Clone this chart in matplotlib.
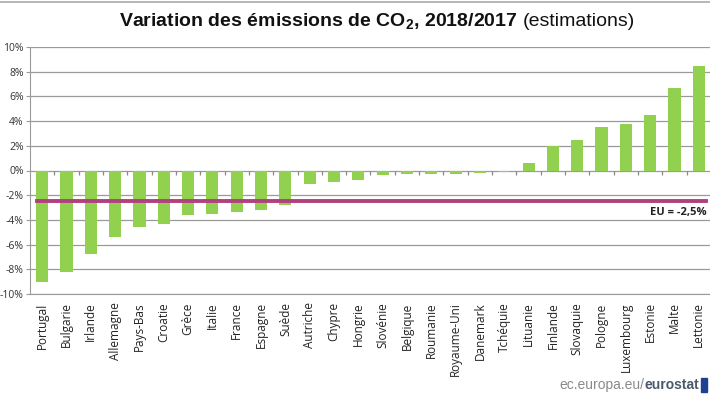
import matplotlib
matplotlib.use("Agg")
import matplotlib.pyplot as plt
import numpy as np

# données (variation en %, 2018/2017)
pays = ["Portugal", "Bulgarie", "Irlande", "Allemagne", "Pays-Bas", "Croatie", "Grèce",
        "Italie", "France", "Espagne", "Suède", "Autriche", "Chypre", "Hongrie", "Slovénie",
        "Belgique", "Roumanie", "Royaume-Uni", "Danemark", "Tchéquie", "Lituanie", "Finlande",
        "Slovaquie", "Pologne", "Luxembourg", "Estonie", "Malte", "Lettonie"]
variation = [-9.0, -8.2, -6.8, -5.4, -4.6, -4.3, -3.6, -3.5, -3.4, -3.2, -2.8, -1.1, -0.9, -0.8,
             -0.4, -0.3, -0.3, -0.3, -0.2, -0.1, 0.6, 2.0, 2.5, 3.5, 3.8, 4.5, 6.7, 8.5]
moyenne_ue = -2.5
yticks = [-10, -8, -6, -4, -2, 0, 2, 4, 6, 8, 10]

plt.rcParams['mathtext.fontset'] = 'custom'
plt.rcParams['mathtext.rm'] = 'Liberation Sans'
plt.rcParams['mathtext.bf'] = 'Liberation Sans:bold'

W, H = 710, 399
fig = plt.figure(figsize=(W / 100, H / 100), dpi=100)
ax = fig.add_axes([30 / W, 105 / H, 681 / W, 247 / H])

x = np.arange(len(pays))
ax.bar(x, variation, width=0.5, color='#92D050', zorder=3)
ax.set_xlim(-0.5, len(pays) - 0.5)
ax.set_ylim(-10, 10)

# ligne UE
fin = len(pays) - 0.7
ax.plot([-0.2, fin], [moyenne_ue, moyenne_ue], color='#B0417E', lw=2.8, zorder=4)
ax.text(fin, moyenne_ue - 0.45, "EU = -2,5%", ha='right', va='top',
        fontsize=8, fontweight='bold', family='Open Sans', color='#222222', zorder=5)

# grille
for v in yticks:
    ax.axhline(v, color='#9a9a9a', lw=0.9, zorder=1)
ax.set_yticks(yticks)
ax.set_yticklabels([f"{v}%" for v in yticks], family='Open Sans', fontsize=7.5, color='#333333')
ax.tick_params(axis='y', length=3, color='#9a9a9a', pad=1.5)

# petits traits sur l'axe du zéro
bornes = np.arange(len(pays) + 1) - 0.5
ax.vlines(bornes[1:-1], 0, -0.35, color='#8a8a8a', lw=0.9, zorder=2)

ax.set_xticks(x)
ax.set_xticklabels(pays, rotation=90, family='Open Sans', fontsize=8.5, color='#222222')
ax.tick_params(axis='x', length=0, pad=6)

for s in ['top', 'right']:
    ax.spines[s].set_visible(False)
ax.spines['left'].set_color('#9a9a9a')
ax.spines['bottom'].set_color('#9a9a9a')

# bordure du haut
fig.add_artist(plt.Line2D([0, 1], [1 - 1.5 / H, 1 - 1.5 / H], color='#aaaaaa', lw=1.2))

# titre en deux morceaux
fig.canvas.draw()
r = fig.canvas.get_renderer()
t1 = fig.text(0, 1 - 22 / H, r"Variation des émissions de CO$_\mathbf{2}$, 2018/2017",
              family='Liberation Sans', fontweight='bold', fontsize=14, va='center', color='#111111')
t2 = fig.text(0, 1 - 22 / H, "(estimations)", family='Liberation Sans', fontsize=14,
              va='center', color='#111111')
w1 = t1.get_window_extent(r).width + 5
w2 = t2.get_window_extent(r).width
x0 = 377 - (w1 + w2) / 2
t1.set_x(x0 / W)
t2.set_x((x0 + w1) / W)

# source
s2 = fig.text(699 / W, 1 - 385 / H, "eurostat", family='Liberation Sans', fontweight='bold',
              fontsize=10, color='#4a5a6a', ha='right', va='center')
ws2 = s2.get_window_extent(r).width
fig.text((699 - ws2) / W, 1 - 385 / H, "ec.europa.eu/", family='Liberation Sans',
         fontsize=10, color='#8a8a8a', ha='right', va='center')
fig.add_artist(plt.Rectangle((701 / W, 1 - 392 / H), 6 / W, 14 / H, color='#1f3f8f',
                             transform=fig.transFigure))

fig.savefig("out.png", dpi=100)
